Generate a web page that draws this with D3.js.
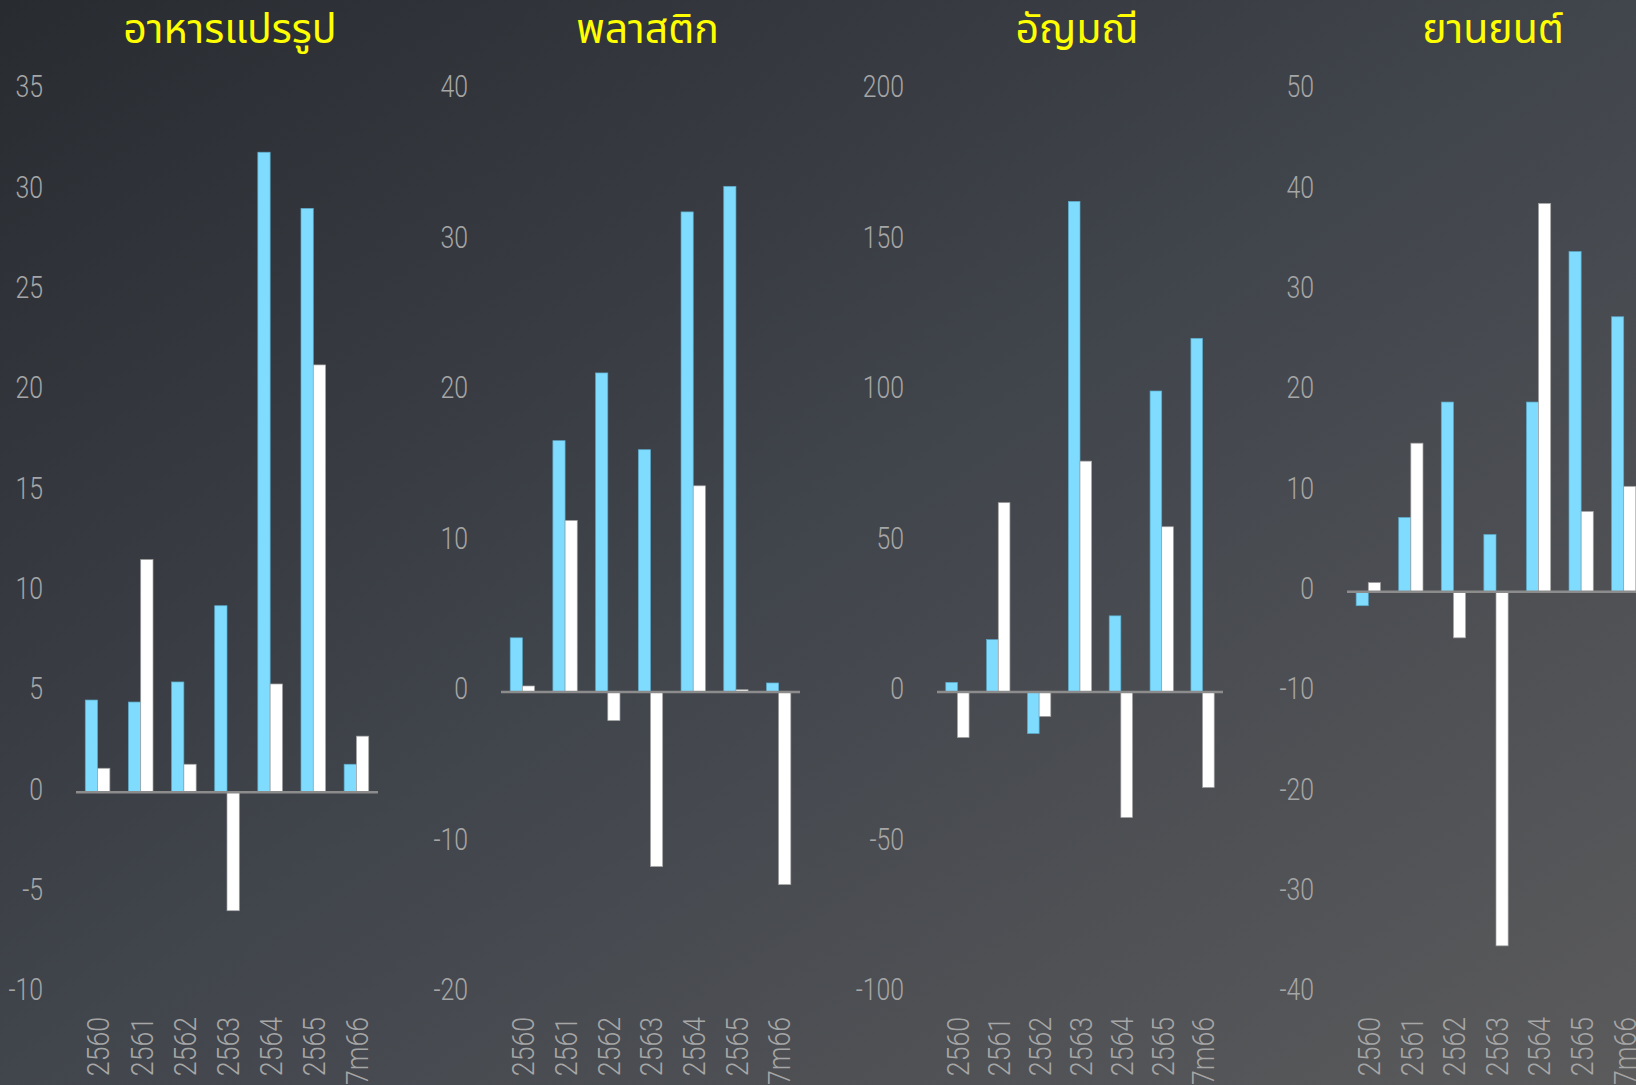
<!DOCTYPE html>
<html>
<head>
<meta charset="utf-8">
<script src="https://cdn.jsdelivr.net/npm/d3@7"></script>
<style>
  html, body { margin: 0; padding: 0; overflow: hidden; background: #3a3d43; }
  svg { display: block; }
</style>
</head>
<body>
<div id="chart"></div>
<script>
// categories and panel titles
const years = ["2560", "2561", "2562", "2563", "2564", "2565", "7m66"];
const titles = ["อาหารแปรรูป", "พลาสติก", "อัญมณี", "ยานยนต์"];

// y domains and tick steps per panel
const yDomains = [[-10, 35], [-20, 40], [-100, 200], [-40, 50]];
const tickSteps = [5, 10, 50, 10];

// series values (blue = first series, white = second series)
const foodBlue = [4.6, 4.5, 5.5, 9.3, 31.9, 29.1, 1.4];
const foodWhite = [1.2, 11.6, 1.4, -5.9, 5.4, 21.3, 2.8];
const plasticBlue = [3.6, 16.7, 21.2, 16.1, 31.9, 33.6, 0.6];
const plasticWhite = [0.4, 11.4, -1.9, -11.6, 13.7, 0.15, -12.8];
const gemsBlue = [3.2, 17.4, -13.8, 163, 25.3, 100, 117.5];
const gemsWhite = [-15.1, 62.9, -8.1, 76.7, -41.7, 54.9, -31.7];
const autoBlue = [-1.4, 7.4, 18.9, 5.7, 18.9, 33.9, 27.4];
const autoWhite = [0.9, 14.8, -4.6, -35.3, 38.7, 8.0, 10.5];

const blueSeries = [foodBlue, plasticBlue, gemsBlue, autoBlue];
const whiteSeries = [foodWhite, plasticWhite, gemsWhite, autoWhite];

const W = 1636, H = 1085;
const panelLeft = [76, 501, 937, 1347];
const panelWidth = [302, 299, 286, 298];
const titleShift = [6, 0, 0, 0];
const plotTop = 90, plotBottom = 993;

const labelFont = "Roboto, 'Liberation Sans', sans-serif";

const svg = d3.select("#chart").append("svg")
    .attr("width", W)
    .attr("height", H);

// background gradient
const grad = svg.append("defs").append("linearGradient")
    .attr("id", "bg")
    .attr("x1", "0%").attr("y1", "0%")
    .attr("x2", "100%").attr("y2", "100%");
grad.append("stop").attr("offset", "0%").attr("stop-color", "#282b30");
grad.append("stop").attr("offset", "50%").attr("stop-color", "#41454c");
grad.append("stop").attr("offset", "100%").attr("stop-color", "#5b5b5c");

svg.append("rect")
    .attr("width", W)
    .attr("height", H)
    .attr("fill", "url(#bg)");

titles.forEach(function (title, i) {
    const left = panelLeft[i];
    const right = left + panelWidth[i];
    const g = svg.append("g");

    const y = d3.scaleLinear().domain(yDomains[i]).range([plotBottom, plotTop]);
    const x0 = d3.scaleBand().domain(years).range([left, right]);
    const bw = x0.bandwidth();
    const x1 = d3.scaleBand().domain(["blue", "white"]).range([bw * 0.215, bw * 0.785]);

    const rows = years.map((yr, k) => ({ year: yr, blue: blueSeries[i][k], white: whiteSeries[i][k] }));

    // title
    g.append("text")
        .attr("x", (left + right) / 2 - 3 + titleShift[i])
        .attr("y", 43)
        .attr("text-anchor", "middle")
        .attr("fill", "#ffff00")
        .style("font-family", "'Noto Sans Thai', 'Noto Sans', sans-serif")
        .style("font-size", "41px")
        .text(title);

    // y axis labels
    const ticks = d3.range(yDomains[i][0], yDomains[i][1] + 0.001, tickSteps[i]);
    const yAxis = d3.axisLeft(y).tickValues(ticks).tickSize(0).tickPadding(0)
        .tickFormat(d => String(d));
    g.append("g")
        .attr("transform", "translate(" + (left - 33) + ",-3)")
        .call(yAxis)
        .call(a => a.select(".domain").remove())
        .selectAll("text")
        .attr("transform", "scale(0.8,1)")
        .attr("fill", "#a6a6a6")
        .style("font-family", labelFont)
        .style("font-weight", 300)
        .style("font-size", "31px");

    // bars
    const groups = g.selectAll(".grp")
        .data(rows)
        .join("g")
        .attr("transform", d => "translate(" + x0(d.year) + ",0)");

    groups.selectAll("rect")
        .data(d => [{ key: "blue", v: d.blue }, { key: "white", v: d.white }])
        .join("rect")
        .attr("x", d => x1(d.key))
        .attr("width", x1.bandwidth())
        .attr("y", d => y(Math.max(0, d.v)))
        .attr("height", d => Math.abs(y(d.v) - y(0)))
        .attr("fill", d => d.key === "blue" ? "#80dcff" : "#ffffff")
        .attr("stroke", d => d.key === "blue" ? "#5aa9c8" : "#a0a0a0")
        .attr("stroke-width", 0.7);

    // zero line
    g.append("line")
        .attr("x1", left)
        .attr("x2", right)
        .attr("y1", y(0))
        .attr("y2", y(0))
        .attr("stroke", "#8c8c8c")
        .attr("stroke-width", 2.5);

    // x axis labels (rotated)
    const xAxis = d3.axisBottom(x0).tickSize(0).tickPadding(0);
    g.append("g")
        .attr("transform", "translate(1,1017)")
        .call(xAxis)
        .call(a => a.select(".domain").remove())
        .selectAll("text")
        .attr("transform", "rotate(-90) scale(0.86,1)")
        .attr("text-anchor", "end")
        .attr("x", 0)
        .attr("y", 0)
        .attr("dy", "0.35em")
        .attr("fill", "#a6a6a6")
        .style("font-family", labelFont)
        .style("font-weight", 300)
        .style("font-size", "31px");
});
</script>
</body>
</html>
